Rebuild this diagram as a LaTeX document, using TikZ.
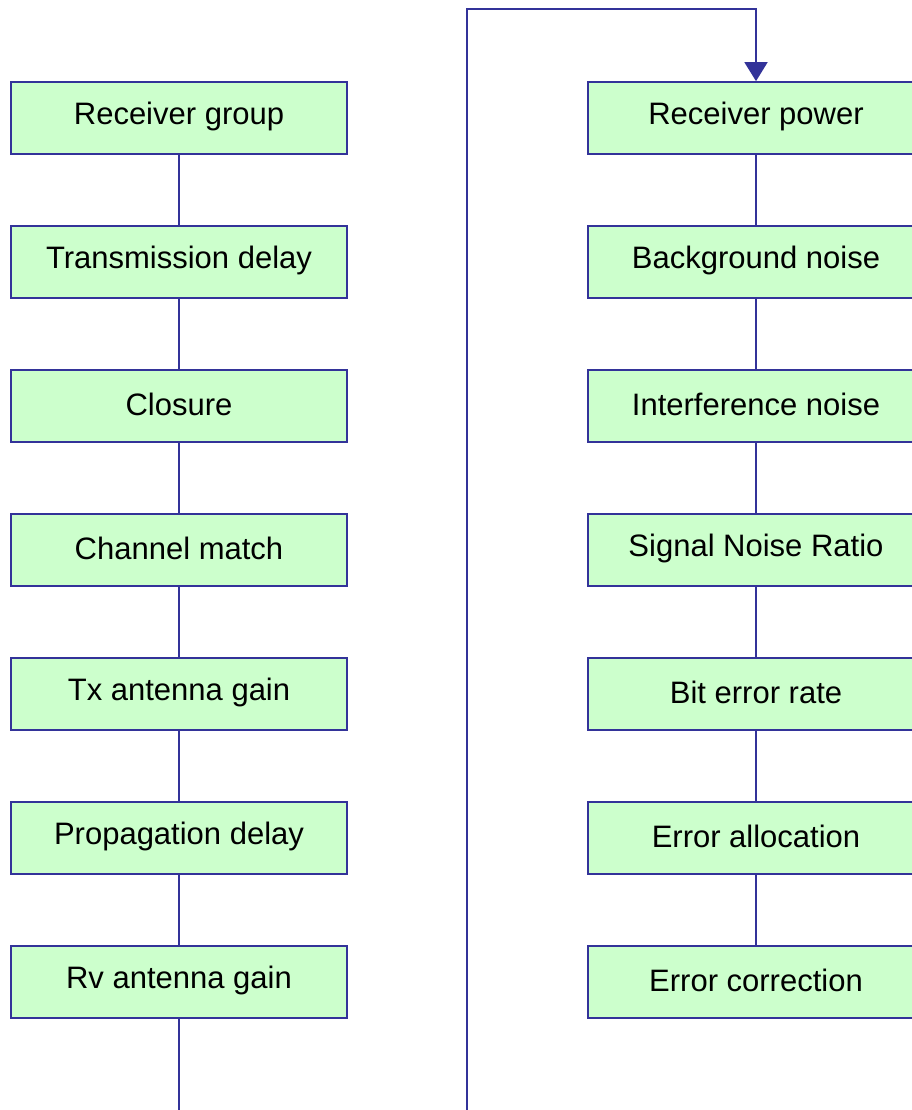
\documentclass[tikz,border=0pt]{standalone}
\usepackage{fontspec}
\setmainfont{Liberation Sans}
\usetikzlibrary{arrows.meta}
\definecolor{edgeblue}{HTML}{333399}
\definecolor{boxgreen}{HTML}{CCFFCC}
\tikzset{
  stagebox/.style={draw=edgeblue, fill=boxgreen, line width=1.6pt,
    minimum width=336pt, minimum height=72pt, inner sep=0pt},
  tag/.style={font=\fontsize{31}{36}\selectfont, text=black, inner sep=0pt},
  link/.style={draw=edgeblue, line width=1.6pt},
  feed/.style={link, -{Triangle[length=19pt,width=23pt]}}
}
% a box with its caption set slightly above the centre
\newcommand{\stage}[3]{%
  \node[stagebox] (#1) at (#2) {};
  \node[tag] (#1t) at ([yshift=1.5pt]#1.center) {#3};}
\begin{document}
\begin{tikzpicture}[x=1pt,y=1pt]
  \useasboundingbox (0,0) rectangle (912,1110);
  \clip (0,0) rectangle (912,1110);
  % left column
  \stage{l1}{179,992}{Receiver group}
  \stage{l2}{179,848}{Transmission delay}
  \stage{l3}{179,704}{Closure}
  \stage{l4}{179,560}{Channel match}
  \stage{l5}{179,416}{Tx antenna gain}
  \stage{l6}{179,272}{Propagation delay}
  \stage{l7}{179,128}{Rv antenna gain}
  % right column
  \stage{r1}{756,992}{Receiver power}
  \stage{r2}{756,848}{Background noise}
  \stage{r3}{756,704}{Interference noise}
  \stage{r4}{756,560}{Signal Noise Ratio}
  \stage{r5}{756,416}{Bit error rate}
  \stage{r6}{756,272}{Error allocation}
  \stage{r7}{756,128}{Error correction}
  % vertical links
  \foreach \a/\b in {l1/l2,l2/l3,l3/l4,l4/l5,l5/l6,l6/l7,
                     r1/r2,r2/r3,r3/r4,r4/r5,r5/r6,r6/r7}
    \draw[link] (\a.south) -- (\b.north);
  % carry-over from the left column to the right column
  \coordinate (lend) at (179,-2);
  \coordinate (rise) at (467,-2);
  \coordinate (top) at (467,1101);
  \draw[link] (l7.south) -- (lend);
  \draw[feed] (rise) -- (top) -| (r1.north);
\end{tikzpicture}
\end{document}
